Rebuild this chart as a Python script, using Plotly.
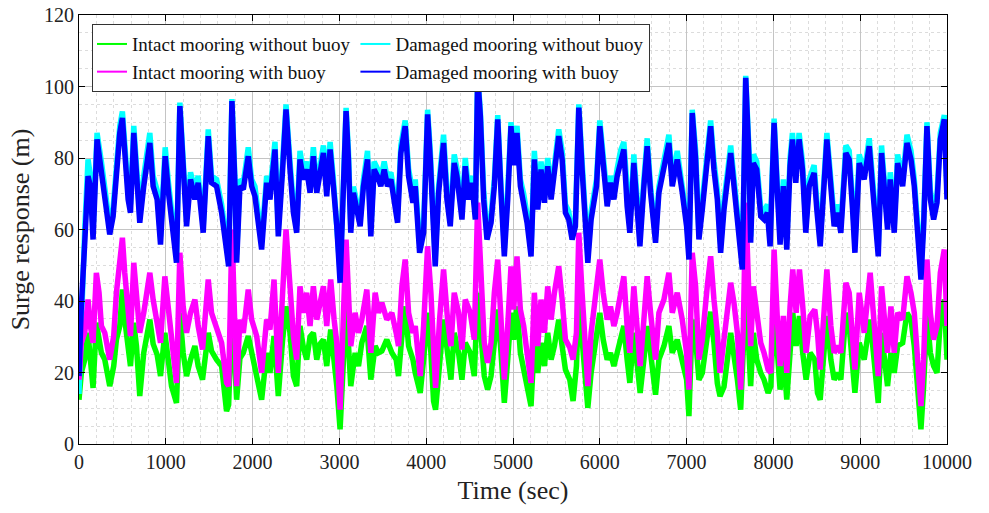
import plotly.graph_objects as go

# ---- surge response time histories (time in s, surge in m) ----
time_damaged = [
    0, 25, 66, 104, 131, 162, 208, 258, 316, 354, 393, 431, 470, 500, 527, 566, 593, 631, 662, 700,
    746, 816, 854, 900, 939, 993, 1031, 1066, 1123, 1162, 1200, 1239, 1285, 1335, 1373, 1431, 1489, 1527, 1585, 1643,
    1724, 1762, 1797, 1816, 1854, 1893, 1950, 1989, 2027, 2066, 2104, 2162, 2200, 2258, 2296, 2346, 2385, 2431, 2470, 2508,
    2546, 2585, 2623, 2662, 2700, 2739, 2777, 2816, 2854, 2893, 2931, 2970, 3008, 3039, 3077, 3104, 3131, 3162, 3200, 3239,
    3277, 3324, 3362, 3400, 3439, 3477, 3516, 3554, 3593, 3631, 3670, 3708, 3758, 3797, 3847, 3874, 3924, 3970, 4016, 4047,
    4077, 4104, 4143, 4200, 4239, 4277, 4323, 4354, 4412, 4450, 4489, 4527, 4566, 4593, 4624, 4662, 4700, 4747, 4785, 4824,
    4862, 4900, 4939, 4977, 5010, 5046, 5085, 5123, 5162, 5208, 5246, 5285, 5323, 5362, 5400, 5439, 5477, 5527, 5566, 5604,
    5642, 5681, 5719, 5758, 5796, 5835, 5862, 5900, 5962, 6000, 6039, 6085, 6123, 6162, 6200, 6239, 6277, 6315, 6346, 6392,
    6431, 6462, 6508, 6546, 6585, 6642, 6681, 6739, 6796, 6835, 6892, 6950, 7000, 7027, 7065, 7104, 7142, 7181, 7238, 7277,
    7315, 7354, 7392, 7431, 7508, 7546, 7585, 7623, 7642, 7681, 7719, 7738, 7769, 7808, 7854, 7892, 7931, 7962, 8008, 8046,
    8077, 8115, 8154, 8192, 8219, 8258, 8296, 8335, 8373, 8412, 8469, 8500, 8539, 8616, 8662, 8700, 8739, 8777, 8835, 8873,
    8912, 8939, 8989, 9046, 9104, 9154, 9208, 9246, 9285, 9315, 9346, 9392, 9431, 9489, 9539, 9585, 9623, 9662, 9700, 9731,
    9769, 9808, 9846, 9885, 9923, 9969, 10000,
]

damaged_with_buoy = [
    19, 37.6, 56.3, 74.9, 72.1, 57.2, 85.2, 76.8, 65.6, 58.6, 63.7, 76.8, 87.0, 91.2, 80.5, 68.4, 64.7, 87.0, 75.8, 61.9,
    72.1, 84.2, 72.1, 68.4, 55.8, 80.5, 70.3, 62.8, 50.7, 94.5, 74.9, 60.9, 74.0, 68.4, 73.1, 59.1, 86.1, 73.1, 72.1, 64.7,
    49.7, 95.9, 72.1, 50.7, 72.1, 71.2, 80.5, 72.1, 69.3, 60.9, 54.4, 73.1, 68.4, 82.4, 58.1, 76.8, 93.6, 76.8, 64.7, 59.1,
    79.6, 74.0, 76.8, 70.3, 80.5, 70.3, 76.8, 81.4, 69.3, 82.4, 72.1, 60.9, 45.1, 65.6, 93.1, 79.6, 59.1, 70.3, 65.6, 60.9,
    72.1, 79.6, 58.1, 76.8, 74.9, 72.1, 76.8, 72.1, 74.0, 68.4, 61.9, 81.4, 88.9, 74.9, 67.5, 72.1, 53.5, 59.1, 92.2, 79.6,
    62.8, 49.7, 70.3, 84.2, 68.4, 60.9, 78.6, 74.9, 62.8, 77.7, 68.4, 73.1, 62.8, 102.9, 91.7, 68.4, 57.2, 61.9, 72.1, 90.8,
    70.3, 52.5, 68.4, 88.9, 78.0, 87.0, 72.1, 67.5, 61.9, 52.5, 79.6, 65.6, 76.8, 67.5, 77.7, 68.4, 75.8, 86.1, 79.6, 64.7,
    62.8, 57.2, 60.9, 94.1, 76.8, 59.1, 50.7, 62.8, 72.1, 88.9, 76.8, 66.5, 73.1, 68.4, 74.9, 79.6, 82.4, 66.5, 59.1, 78.6,
    65.6, 55.3, 72.1, 83.3, 70.3, 56.3, 70.3, 76.8, 84.2, 72.1, 79.6, 70.3, 60.9, 51.6, 92.6, 79.6, 57.2, 65.6, 81.4, 88.9,
    76.8, 68.4, 53.5, 65.6, 81.4, 72.1, 63.7, 56.3, 48.8, 102.4, 79.6, 56.3, 78.6, 76.8, 63.7, 62.8, 64.7, 55.3, 89.8, 70.3,
    55.8, 72.1, 54.4, 77.7, 85.2, 73.1, 85.2, 76.8, 59.1, 72.1, 75.8, 65.6, 55.3, 85.2, 70.3, 60.9, 64.7, 59.1, 81.4, 79.6,
    65.6, 53.5, 78.6, 74.0, 83.3, 70.3, 52.5, 81.4, 70.3, 60.0, 74.0, 59.1, 78.6, 72.1, 84.2, 79.6, 72.1, 58.1, 46.0, 60.9,
    88.9, 68.4, 62.8, 67.5, 85.2, 90.8, 68.4,
]

damaged_without_buoy = [
    14, 34, 60, 79.6, 75, 60, 87, 79, 68, 61, 66, 79, 89, 93, 83, 71, 67, 89, 78, 64,
    75, 87, 75, 71, 58, 83, 73, 65, 53, 95.5, 77, 63, 76, 71, 75, 61, 88, 75, 74, 67,
    52, 96.5, 74, 53, 74, 73, 83, 74, 72, 63, 57, 75, 71, 84.5, 60, 79, 95, 79, 67, 61,
    82, 76, 79, 72, 83, 72, 79, 83.5, 72, 84.5, 74, 63, 48, 68, 94, 82, 61, 72, 68, 63,
    74, 82, 60, 79, 77, 74, 79, 74, 76, 71, 64, 83.5, 90.5, 77, 70, 74, 56, 61, 93.5, 82,
    65, 52, 72, 86.5, 71, 63, 81, 77, 65, 80, 71, 75, 65, 103.5, 93, 71, 59, 64, 74, 92,
    72, 55, 71, 90, 81, 89, 74, 70, 64, 55, 82, 68, 79, 70, 80, 71, 78, 88, 82, 67,
    65, 59, 63, 95, 79, 61, 53, 65, 74, 90.5, 79, 69, 75, 71, 77, 82, 84.5, 69, 61, 81,
    68, 58, 74, 85.5, 72, 58, 72, 79, 86.5, 74, 82, 72, 63, 54, 93.5, 82, 59, 68, 83.5, 90.5,
    79, 71, 56, 68, 83.5, 74, 66, 58, 51, 103, 82, 58, 81, 79, 66, 65, 67, 58, 91, 72,
    58, 74, 57, 80, 87, 75, 87, 79, 61, 74, 78, 68, 57, 87, 72, 63, 67, 61, 83.5, 82,
    68, 56, 81, 76, 85.5, 72, 55, 83.5, 72, 62, 76, 61, 81, 74, 86.5, 82, 74, 60, 49, 63,
    90, 71, 65, 70, 87, 92, 71,
]

time_intact = [
    0, 27, 66, 104, 131, 162, 200, 231, 258, 297, 354, 400, 431, 470, 500, 527, 566, 593, 631, 662,
    700, 746, 816, 854, 900, 939, 989, 1031, 1066, 1123, 1162, 1200, 1239, 1285, 1335, 1373, 1423, 1489, 1527, 1585,
    1643, 1700, 1724, 1762, 1797, 1816, 1854, 1893, 1950, 1989, 2047, 2104, 2162, 2200, 2247, 2296, 2346, 2385, 2431, 2470,
    2508, 2546, 2585, 2623, 2662, 2700, 2739, 2777, 2816, 2854, 2900, 2939, 2970, 3008, 3039, 3077, 3104, 3131, 3181, 3220,
    3258, 3316, 3362, 3412, 3450, 3489, 3546, 3604, 3654, 3681, 3720, 3758, 3797, 3847, 3874, 3931, 3970, 4016, 4054, 4085,
    4108, 4154, 4200, 4246, 4285, 4323, 4373, 4412, 4450, 4508, 4554, 4593, 4631, 4669, 4708, 4747, 4785, 4824, 4862, 4900,
    4939, 4977, 5008, 5046, 5085, 5123, 5162, 5208, 5246, 5285, 5323, 5362, 5400, 5439, 5477, 5527, 5566, 5604, 5654, 5692,
    5731, 5758, 5796, 5835, 5862, 5900, 5950, 6000, 6039, 6085, 6123, 6162, 6200, 6239, 6277, 6315, 6346, 6392, 6431, 6465,
    6508, 6546, 6585, 6642, 6681, 6739, 6796, 6835, 6892, 6950, 7000, 7027, 7065, 7104, 7142, 7181, 7238, 7277, 7315, 7354,
    7385, 7431, 7508, 7546, 7585, 7623, 7654, 7681, 7719, 7738, 7769, 7808, 7854, 7892, 7939, 7970, 8008, 8046, 8077, 8115,
    8154, 8192, 8223, 8262, 8300, 8338, 8377, 8423, 8477, 8508, 8539, 8616, 8662, 8700, 8739, 8777, 8835, 8873, 8912, 8939,
    8989, 9046, 9115, 9154, 9208, 9246, 9285, 9315, 9354, 9392, 9431, 9489, 9539, 9585, 9623, 9662, 9700, 9731, 9769, 9808,
    9846, 9885, 9923, 9969, 10000,
]

intact_without_buoy = [
    12.4, 19.9, 23.6, 31.1, 23.6, 15.7, 33.9, 29.0, 25.5, 23.6, 16.2, 21.8, 29.2, 33.0, 43.2, 34.8, 25.5, 21.8, 33.9, 27.4,
    13.4, 25.5, 34.8, 28.0, 25.0, 19.0, 31.1, 23.6, 16.2, 11.5, 36.7, 25.5, 19.0, 23.6, 27.4, 21.8, 18.0, 31.1, 26.0, 23.6,
    21.8, 9.2, 11.0, 38.5, 23.6, 12.4, 24.0, 25.5, 30.2, 26.0, 19.9, 12.4, 25.5, 19.9, 30.2, 13.4, 29.2, 38.5, 31.1, 19.0,
    16.2, 33.0, 27.0, 23.6, 30.0, 31.1, 23.6, 28.0, 29.2, 21.8, 32.0, 23.6, 16.2, 4.1, 23.6, 38.5, 28.0, 16.2, 25.5, 21.8,
    28.3, 33.0, 18.0, 27.4, 25.5, 26.0, 29.2, 25.5, 23.6, 19.0, 30.2, 38.5, 27.4, 23.6, 19.9, 14.3, 23.6, 36.7, 25.5, 12.0,
    9.6, 23.6, 34.8, 25.5, 18.0, 31.1, 25.5, 18.0, 28.3, 25.5, 19.0, 42.3, 31.1, 19.0, 15.2, 19.0, 28.3, 37.6, 25.5, 11.5,
    23.6, 36.7, 29.2, 38.5, 25.5, 21.0, 17.0, 10.6, 29.2, 19.9, 28.3, 21.8, 31.1, 23.6, 27.4, 34.8, 27.4, 20.8, 18.0, 12.0,
    21.8, 40.4, 29.2, 18.0, 10.1, 19.9, 27.4, 36.7, 29.2, 23.6, 25.5, 21.8, 25.5, 29.2, 33.0, 23.6, 17.1, 31.1, 23.6, 14.3,
    23.6, 33.0, 25.5, 13.8, 23.6, 27.4, 33.0, 25.5, 29.2, 23.6, 18.0, 7.8, 34.8, 29.2, 18.0, 19.9, 29.2, 37.0, 28.3, 17.0,
    13.4, 16.0, 31.1, 25.5, 18.0, 9.6, 23.6, 42.3, 25.5, 16.2, 31.1, 23.6, 19.9, 18.0, 14.3, 16.2, 38.5, 23.6, 15.2, 25.5,
    12.4, 25.5, 36.7, 27.4, 35.8, 25.5, 18.0, 25.5, 23.6, 14.3, 12.4, 35.8, 23.6, 18.0, 19.9, 18.0, 36.7, 33.0, 19.9, 14.3,
    28.3, 23.6, 34.8, 25.5, 11.5, 31.1, 23.6, 16.2, 25.5, 19.9, 27.4, 28.3, 36.7, 34.8, 27.4, 16.2, 4.1, 16.2, 36.7, 25.5,
    21.8, 19.9, 34.8, 40.4, 23.6,
]

intact_with_buoy = [
    18.0, 28.3, 31.1, 40.4, 33.0, 28.3, 47.9, 42.3, 33.0, 31.1, 23.6, 30.2, 42.3, 51.6, 57.7, 47.9, 34.8, 30.2, 50.7, 42.3,
    31.1, 36.7, 47.9, 40.4, 34.8, 28.3, 46.9, 36.7, 30.2, 17.1, 53.5, 38.5, 31.1, 36.7, 40.4, 33.0, 26.4, 46.0, 36.7, 33.0,
    28.3, 17.1, 16.2, 60.0, 33.0, 16.2, 34.8, 31.1, 43.2, 34.8, 30.2, 19.9, 34.8, 32.0, 46.0, 19.9, 42.3, 60.0, 44.1, 30.2,
    23.6, 44.1, 36.7, 42.3, 33.0, 44.1, 34.8, 40.4, 44.1, 33.0, 46.0, 34.8, 28.3, 9.6, 33.0, 57.2, 42.3, 27.4, 36.7, 31.1,
    34.8, 43.2, 25.5, 42.3, 36.7, 39.5, 34.8, 36.7, 31.1, 27.4, 44.1, 51.6, 36.7, 31.1, 33.0, 19.0, 33.0, 55.3, 42.3, 25.5,
    15.7, 34.8, 48.8, 34.8, 27.4, 42.3, 36.7, 26.4, 40.4, 36.7, 29.2, 67.5, 44.1, 28.3, 22.7, 28.3, 42.3, 51.6, 34.8, 18.0,
    33.0, 49.7, 37.6, 52.5, 37.6, 33.0, 25.5, 17.1, 42.3, 27.4, 40.4, 31.1, 44.1, 34.8, 42.3, 49.7, 40.4, 29.2, 27.0, 23.6,
    31.1, 59.1, 42.3, 25.5, 16.2, 31.1, 42.3, 51.6, 42.3, 34.8, 38.5, 33.0, 36.7, 42.3, 46.9, 33.0, 25.5, 44.1, 33.0, 21.8,
    34.8, 46.9, 36.7, 23.6, 36.7, 40.4, 47.9, 36.7, 42.3, 34.8, 25.5, 15.2, 53.5, 44.1, 23.6, 29.2, 44.1, 52.5, 40.4, 31.1,
    19.9, 28.3, 45.1, 39.5, 31.1, 15.2, 33.0, 67.5, 42.3, 27.4, 44.1, 36.7, 28.3, 25.5, 20.8, 19.9, 54.4, 34.8, 21.8, 35.8,
    19.9, 38.5, 48.8, 36.7, 48.8, 38.5, 25.5, 35.8, 37.6, 31.1, 20.8, 48.8, 33.0, 25.5, 27.4, 25.5, 45.1, 42.3, 31.1, 20.8,
    42.3, 31.1, 47.9, 34.8, 19.0, 44.1, 34.8, 25.5, 38.5, 25.5, 36.7, 34.8, 46.9, 42.3, 36.7, 23.6, 10.6, 23.6, 51.6, 36.7,
    29.2, 33.0, 47.9, 54.4, 33.0,
]

x_ticks = [0, 1000, 2000, 3000, 4000, 5000, 6000, 7000, 8000, 9000, 10000]
y_ticks = [0, 20, 40, 60, 80, 100, 120]

series_names = [
    "Intact mooring without buoy",
    "Damaged mooring without buoy",
    "Intact mooring with buoy",
    "Damaged mooring with buoy",
]
series_colors = ["#00FF00", "#00FFFF", "#FF00FF", "#0000FF"]
series_groups = ["intact", "damaged", "intact", "damaged"]
series_x = [time_intact, time_damaged, time_intact, time_damaged]
series_y = [intact_without_buoy, damaged_without_buoy, intact_with_buoy, damaged_with_buoy]

SERIF = "Liberation Serif, Times New Roman, serif"
LINE_W = 5.5

fig = go.Figure()

# thick time-history bands, drawn in the order of the legend
for name, color, xs, ys in zip(series_names, series_colors, series_x, series_y):
    fig.add_trace(go.Scatter(x=xs, y=ys, mode="lines", name=name, showlegend=False,
                             line=dict(color=color, width=LINE_W)))

# legend entries with thin line samples
for name, color, grp in zip(series_names, series_colors, series_groups):
    fig.add_trace(go.Scatter(x=[None], y=[None], mode="lines", name=name,
                             legendgroup=grp, line=dict(color=color, width=2)))

axis_common = dict(
    showline=True, linecolor="black", linewidth=1, mirror="ticks",
    ticks="inside", ticklen=6, tickcolor="black",
    showgrid=True, gridcolor="#c4c4c4", gridwidth=1,
    zeroline=False,
    tickfont=dict(family=SERIF, size=20, color="#222222"),
)

fig.update_xaxes(
    range=[0, 10000], tickvals=x_ticks, ticktext=[str(v) for v in x_ticks],
    title=dict(text="Time (sec)", font=dict(family=SERIF, size=26, color="#222222"), standoff=8),
    minor=dict(dtick=200, showgrid=True, gridcolor="#dcdcdc", griddash="dot", ticks=""),
    **axis_common,
)
fig.update_yaxes(
    range=[0, 120], tickvals=y_ticks, ticktext=[str(v) for v in y_ticks],
    title=dict(text="Surge response (m)", font=dict(family=SERIF, size=26, color="#222222"), standoff=6),
    minor=dict(dtick=5, showgrid=True, gridcolor="#dcdcdc", griddash="dot", ticks=""),
    **axis_common,
)

fig.update_layout(
    width=989, height=513,
    margin=dict(l=79, r=42, t=15, b=69, autoexpand=False),
    paper_bgcolor="white", plot_bgcolor="white",
    legend=dict(
        orientation="h", traceorder="grouped",
        xref="container", yref="container",
        x=0.093, y=0.953, xanchor="left", yanchor="top",
        bgcolor="white", bordercolor="#333333", borderwidth=1,
        font=dict(family=SERIF, size=19, color="#111111"),
        tracegroupgap=0,
    ),
)

fig.write_html("out.html")
